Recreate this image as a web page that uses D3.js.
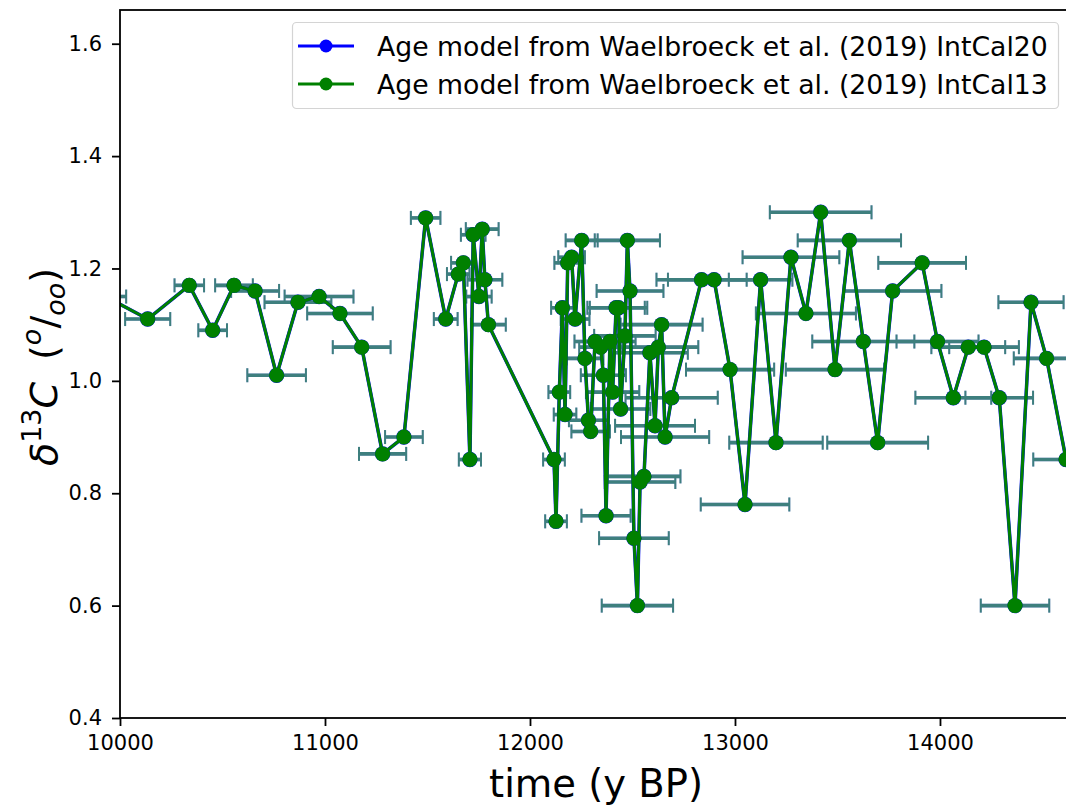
<!DOCTYPE html>
<html>
<head>
<meta charset="utf-8">
<script src="https://cdn.jsdelivr.net/npm/d3@7"></script>
<style>
  html, body { margin: 0; padding: 0; background: #fff; }
  svg { display: block; font-family: "DejaVu Sans", sans-serif; }
</style>
</head>
<body>
<svg id="chart" width="1066" height="808"></svg>
<script>
// ---- data ----
const ageYears = [9930, 10135, 10338, 10452, 10556, 10659, 10764, 10868, 10971, 11073,
  11179, 11281, 11385, 11491, 11589, 11650, 11675, 11707, 11723, 11751,
  11767, 11780, 11797, 12117, 12127, 12143, 12158, 12171, 12184, 12203,
  12220, 12252, 12268, 12285, 12296, 12317, 12345, 12358, 12371, 12390,
  12403, 12420, 12432, 12442, 12463, 12475, 12488, 12507, 12524, 12537,
  12556, 12585, 12610, 12626, 12642, 12659, 12691, 12837, 12898, 12976,
  13049, 13125, 13200, 13273, 13346, 13418, 13488, 13558, 13626, 13696,
  13769, 13913, 13988, 14065, 14138, 14215, 14289, 14366, 14444, 14520, 14615];
const d13C = [1.15, 1.11, 1.17, 1.09, 1.17, 1.16, 1.01, 1.14, 1.15, 1.12,
  1.06, 0.87, 0.90, 1.29, 1.11, 1.19, 1.21, 0.86, 1.26, 1.15,
  1.27, 1.18, 1.10, 0.86, 0.75, 0.98, 1.13, 0.94, 1.21, 1.22,
  1.11, 1.25, 1.04, 0.93, 0.91, 1.07, 1.06, 1.01, 0.76, 1.07,
  0.98, 1.13, 1.13, 0.95, 1.08, 1.25, 1.16, 0.72, 0.60, 0.82,
  0.83, 1.05, 0.92, 1.06, 1.10, 0.90, 0.97, 1.18, 1.18, 1.02,
  0.78, 1.18, 0.89, 1.22, 1.12, 1.30, 1.02, 1.25, 1.07, 0.89,
  1.16, 1.21, 1.07, 0.97, 1.06, 1.06, 0.97, 0.60, 1.14, 1.04, 0.86];
const ageErr = [100, 110, 72, 70, 92, 117, 143, 163, 168, 160,
  141, 115, 92, 72, 58, 55, 60, 54, 60, 62,
  80, 85, 85, 53, 53, 53, 55, 55, 65, 65,
  70, 78, 90, 95, 94, 100, 105, 110, 120, 125,
  130, 140, 140, 145, 150, 159, 163, 170, 174, 172,
  178, 185, 195, 195, 200, 215, 225, 220, 225, 215,
  216, 155, 228, 236, 244, 248, 240, 252, 249, 246,
  238, 214, 200, 185, 180, 170, 165, 167, 159, 160, 160];
// Both age models overlap almost exactly in the picture
const seriesNames = ["Age model from Waelbroeck et al. (2019) IntCal20",
                     "Age model from Waelbroeck et al. (2019) IntCal13"];
const seriesColors = ["#0000ff", "#008000"];
const xTicks = [10000, 11000, 12000, 13000, 14000];
const yTicks = [0.4, 0.6, 0.8, 1.0, 1.2, 1.4, 1.6];

const series = [
  { name: seriesNames[0], color: seriesColors[0], t: ageYears, v: d13C, e: ageErr },
  { name: seriesNames[1], color: seriesColors[1], t: ageYears, v: d13C, e: ageErr }
];

// ---- layout ----
const svg = d3.select("#chart");
const L = 120, T = 10, R = 1072, B = 718;
const x = d3.scaleLinear().domain([10000, 14644]).range([L, R]);
const y = d3.scaleLinear().domain([0.4, 1.66]).range([B, T]);

svg.append("defs").append("clipPath").attr("id", "clip")
  .append("rect").attr("x", L).attr("y", T).attr("width", R - L).attr("height", B - T);

const plot = svg.append("g").attr("clip-path", "url(#clip)");

series.forEach((s, si) => {
  const pts = s.t.map((t, i) => ({ t, v: s.v[i], e: s.e[i] }));
  const gb = plot.append("g").attr("opacity", 0.5);
  gb.selectAll("line.bar").data(pts).join("line")
    .attr("x1", d => x(d.t - d.e)).attr("x2", d => x(d.t + d.e))
    .attr("y1", d => y(d.v)).attr("y2", d => y(d.v))
    .attr("stroke", s.color).attr("stroke-width", 3.6);
  gb.selectAll("line.capl").data(pts).join("line")
    .attr("x1", d => x(d.t - d.e)).attr("x2", d => x(d.t - d.e))
    .attr("y1", d => y(d.v) - 7).attr("y2", d => y(d.v) + 7)
    .attr("stroke", s.color).attr("stroke-width", 2);
  gb.selectAll("line.capr").data(pts).join("line")
    .attr("x1", d => x(d.t + d.e)).attr("x2", d => x(d.t + d.e))
    .attr("y1", d => y(d.v) - 7).attr("y2", d => y(d.v) + 7)
    .attr("stroke", s.color).attr("stroke-width", 2);

  const line = d3.line().x(d => x(d.t)).y(d => y(d.v));
  plot.append("path").datum(pts).attr("d", line)
    .attr("fill", "none").attr("stroke", s.color)
    .attr("stroke-width", si === 0 ? 3.5 : 3.0).attr("stroke-linejoin", "round");
  plot.append("g").selectAll("circle").data(pts).join("circle")
    .attr("cx", d => x(d.t)).attr("cy", d => y(d.v))
    .attr("r", si === 0 ? 7.7 : 7.5).attr("fill", s.color);
});

// ---- axes ----
const fontTick = "21px";
const xAxis = svg.append("g").attr("transform", `translate(0,${B})`)
  .call(d3.axisBottom(x).tickValues(xTicks).tickFormat(d3.format("d")).tickSize(8).tickPadding(9).tickSizeOuter(0));
const yAxis = svg.append("g").attr("transform", `translate(${L},0)`)
  .call(d3.axisLeft(y).tickValues(yTicks).tickFormat(d3.format(".1f")).tickSize(8).tickPadding(10).tickSizeOuter(0));
[xAxis, yAxis].forEach(a => {
  a.select(".domain").remove();
  a.selectAll(".tick line").attr("stroke", "#000").attr("stroke-width", 1.8);
  a.selectAll(".tick text").attr("fill", "#000")
    .style("font-family", "DejaVu Sans").style("font-size", fontTick);
});

// spines
svg.append("rect").attr("x", L).attr("y", T).attr("width", R - L).attr("height", B - T)
  .attr("fill", "none").attr("stroke", "#000").attr("stroke-width", 1.8);

// axis labels
svg.append("text").attr("x", (L + R) / 2).attr("y", 797)
  .attr("text-anchor", "middle").style("font-family", "DejaVu Sans").style("font-size", "38.5px")
  .text("time (y BP)");

const yl = svg.append("text").attr("transform", `translate(57,${(T + B) / 2 + 3}) rotate(-90)`)
  .attr("text-anchor", "middle").style("font-family", "DejaVu Sans").style("font-size", "38px");
yl.append("tspan").style("font-style", "italic").text("δ");
yl.append("tspan").attr("dy", -16).style("font-size", "27px").text("13");
yl.append("tspan").attr("dy", 16).style("font-style", "italic").text("C");
yl.append("tspan").attr("dx", 22).text("(");
yl.append("tspan").attr("dy", -16).style("font-size", "27px").style("font-style", "italic").text("o");
yl.append("tspan").attr("dy", 16).text("/");
yl.append("tspan").attr("dy", 8).style("font-size", "27px").style("font-style", "italic").text("oo");
yl.append("tspan").attr("dy", -8).text(")");

// ---- legend ----
const lg = svg.append("g");
lg.append("rect").attr("x", 292.5).attr("y", 22.5).attr("width", 766).attr("height", 86)
  .attr("rx", 4).attr("fill", "#fff").attr("fill-opacity", 0.8)
  .attr("stroke", "#d4d4d4").attr("stroke-width", 1.2);
const rowY = [46, 84];
series.forEach((s, i) => {
  lg.append("line").attr("x1", 298).attr("x2", 354).attr("y1", rowY[i]).attr("y2", rowY[i])
    .attr("stroke", s.color).attr("stroke-width", 3);
  lg.append("circle").attr("cx", 326).attr("cy", rowY[i]).attr("r", 6.5).attr("fill", s.color);
  lg.append("text").attr("x", 377).attr("y", rowY[i] + 9.5)
    .style("font-family", "DejaVu Sans").style("font-size", "26.7px").attr("fill", "#000")
    .text(s.name);
});
</script>
</body>
</html>
